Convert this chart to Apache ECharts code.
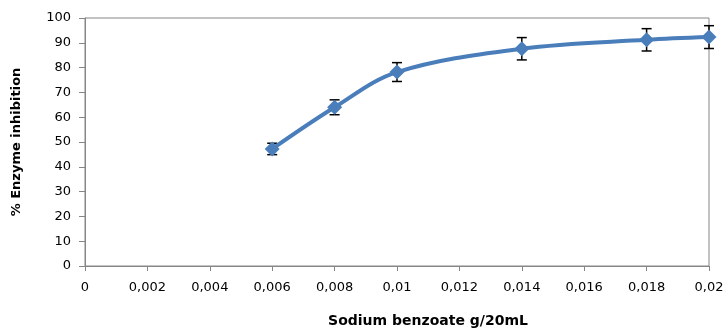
<!DOCTYPE html>
<html><head><meta charset="utf-8">
<script src="https://cdn.jsdelivr.net/npm/echarts@6/dist/echarts.min.js"></script>
<style>html,body{margin:0;padding:0;background:#fff}#c{width:726px;height:328px}</style>
</head><body><div id="c"></div>
<script>
const concentrations = [0.006, 0.008, 0.010, 0.014, 0.018, 0.020];
const inhibition = [47.2, 64.0, 78.2, 87.6, 91.2, 92.3];
const errors = [2.3, 3.0, 3.8, 4.5, 4.5, 4.6];
const xTicks = [0, 0.002, 0.004, 0.006, 0.008, 0.01, 0.012, 0.014, 0.016, 0.018, 0.02];
const yTicks = [0, 10, 20, 30, 40, 50, 60, 70, 80, 90, 100];

const lineData = concentrations.map((x, i) => [x, inhibition[i]]);
const errData = concentrations.map((x, i) => [x, inhibition[i] - errors[i], inhibition[i] + errors[i]]);
const axisColor = '#868686';
const font = 'DejaVu Sans, Verdana, sans-serif';

const chart = echarts.init(document.getElementById('c'));
chart.setOption({
  animation: false,
  grid: {left: 85, right: 17, top: 18, bottom: 62, show: true, borderColor: axisColor, borderWidth: 1,
    containLabel: false, outerBoundsMode: 'none'},
  xAxis: {
    type: 'value', min: xTicks[0], max: xTicks[xTicks.length - 1], interval: 0.002,
    name: 'Sodium benzoate g/20mL', nameLocation: 'middle', nameGap: 48,
    nameTextStyle: {fontFamily: font, fontWeight: 'bold', fontSize: 14, color: '#000', padding: [0, 0, 0, 62]},
    axisLine: {lineStyle: {color: axisColor}},
    axisTick: {show: true, length: 5, lineStyle: {color: axisColor}},
    splitLine: {show: false},
    axisLabel: {margin: 15, color: '#000', fontFamily: font, fontSize: 13,
      formatter: v => String(parseFloat(v.toFixed(4))).replace('.', ',')}
  },
  yAxis: {
    type: 'value', min: yTicks[0], max: yTicks[yTicks.length - 1], interval: 10,
    name: '% Enzyme inhibition', nameLocation: 'middle', nameGap: 62, nameRotate: 90,
    nameTextStyle: {fontFamily: font, fontWeight: 'bold', fontSize: 13, color: '#000'},
    axisLine: {show: true, lineStyle: {color: axisColor}},
    axisTick: {show: true, length: 6, lineStyle: {color: axisColor}},
    splitLine: {show: false},
    axisLabel: {margin: 14, color: '#000', fontFamily: font, fontSize: 13}
  },
  series: [
    {
      type: 'custom', data: errData, z: 1,
      renderItem: function (params, api) {
        const x = api.value(0);
        const lo = api.coord([x, api.value(1)]);
        const hi = api.coord([x, api.value(2)]);
        const w = 5;
        const st = {stroke: '#000', lineWidth: 1.5};
        return {type: 'group', children: [
          {type: 'line', shape: {x1: lo[0], y1: lo[1], x2: hi[0], y2: hi[1]}, style: st},
          {type: 'line', shape: {x1: lo[0] - w, y1: lo[1], x2: lo[0] + w, y2: lo[1]}, style: st},
          {type: 'line', shape: {x1: hi[0] - w, y1: hi[1], x2: hi[0] + w, y2: hi[1]}, style: st}
        ]};
      }
    },
    {
      type: 'line', data: lineData, smooth: 0.35, z: 3,
      symbol: 'diamond', symbolSize: 15,
      lineStyle: {color: '#4a7ebb', width: 4},
      itemStyle: {color: '#4a7ebb'}
    }
  ]
});
</script></body></html>
